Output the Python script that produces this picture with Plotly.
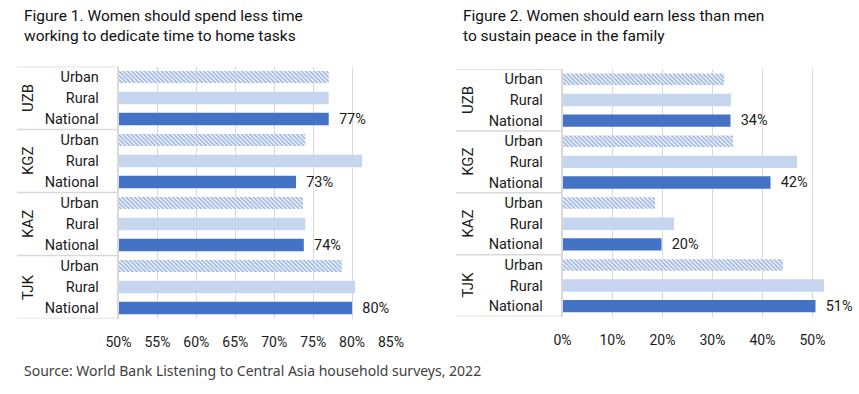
import plotly.graph_objects as go

W, H = 859, 394

countries = ["UZB", "KGZ", "KAZ", "TJK"]
subgroups = ["Urban", "Rural", "National"]

# Figure 1: Women should spend less time working to dedicate time to home tasks
fig1_urban = [0.770, 0.740, 0.737, 0.787]
fig1_rural = [0.770, 0.813, 0.740, 0.804]
fig1_national = [0.770, 0.728, 0.738, 0.800]

# Figure 2: Women should earn less than men to sustain peace in the family
fig2_urban = [0.323, 0.341, 0.185, 0.441]
fig2_rural = [0.337, 0.469, 0.223, 0.523]
fig2_national = [0.336, 0.416, 0.198, 0.506]

fig1_ticks = [0.50, 0.55, 0.60, 0.65, 0.70, 0.75, 0.80, 0.85]
fig2_ticks = [0.0, 0.1, 0.2, 0.3, 0.4, 0.5]

title1 = "Figure 1. Women should spend less time<br>working to dedicate time to home tasks"
title2 = "Figure 2. Women should earn less than men<br>to sustain peace in the family"
source = "Source: World Bank Listening to Central Asia household surveys, 2022"

C_NAT = "#4472C4"
C_RUR = "#C7D6EF"
GRID = "#D9D9D9"
FONT = "Roboto"
TXT = "#1a1a1a"

n_sub = len(subgroups)
row_labels = [s for c in countries for s in subgroups]
row_pos = list(range(len(row_labels)))


def positions(sub_idx):
    return [i * n_sub + sub_idx for i in range(len(countries))]


fig = go.Figure()


def add_chart(urban, rural, national, xa, ya):
    fig.add_trace(go.Bar(
        x=urban, y=positions(0), orientation="h", width=0.56,
        marker=dict(color="white", line=dict(width=0),
                    pattern=dict(shape="\\", fgcolor=C_NAT, bgcolor="white",
                                 size=3, solidity=0.62)),
        xaxis=xa, yaxis=ya, showlegend=False, hoverinfo="x"))
    fig.add_trace(go.Bar(
        x=rural, y=positions(1), orientation="h", width=0.6,
        marker=dict(color=C_RUR, line=dict(width=0)),
        xaxis=xa, yaxis=ya, showlegend=False, hoverinfo="x"))
    fig.add_trace(go.Bar(
        x=national, y=positions(2), orientation="h", width=0.6,
        marker=dict(color=C_NAT, line=dict(width=0)),
        texttemplate="\u00a0\u00a0%{x:.0%}", textposition="outside",
        cliponaxis=False, constraintext="none",
        textfont=dict(family=FONT, size=14.5, color=TXT),
        xaxis=xa, yaxis=ya, showlegend=False, hoverinfo="x"))


add_chart(fig1_urban, fig1_rural, fig1_national, "x", "y")
add_chart(fig2_urban, fig2_rural, fig2_national, "x2", "y2")

# Axis domains (paper fractions)
L1, R1 = 118.5 / W, 391 / W
T1, B1 = 1 - 66.5 / H, 1 - 318.5 / H
L2, R2 = 562.5 / W, 842.5 / W
T2, B2 = 1 - 69 / H, 1 - 316.5 / H

common_x = dict(showgrid=True, gridcolor=GRID, gridwidth=1.3, zeroline=False,
                tickformat=".0%", ticks="", ticklabelstandoff=13, automargin=False,
                tickfont=dict(family=FONT, size=14, color=TXT), fixedrange=True)
common_y = dict(tickmode="array", tickvals=row_pos, ticktext=row_labels,
                autorange=False, range=[len(row_labels) - 0.5, -0.5],
                showgrid=False, zeroline=False, showline=True, linecolor=GRID,
                linewidth=1.5, ticks="", ticklabelstandoff=15, automargin=False,
                tickfont=dict(family=FONT, size=14.5, color=TXT), fixedrange=True)

fig.update_layout(
    width=W, height=H, margin=dict(l=0, r=0, t=0, b=0, autoexpand=False),
    paper_bgcolor="white", plot_bgcolor="white", bargap=0.4,
    xaxis=dict(domain=[L1, R1], range=[0.5, 0.85], tickvals=fig1_ticks,
               anchor="y", **common_x),
    yaxis=dict(domain=[B1, T1], anchor="x", **common_y),
    xaxis2=dict(domain=[L2, R2], range=[0, 0.56], tickvals=fig2_ticks,
                anchor="y2", **common_x),
    yaxis2=dict(domain=[B2, T2], anchor="x2", **common_y),
)

shapes = []
annotations = []
for ya, left_px, axis_px, lab_px in [("y", 17, 118.5, 28), ("y2", 456, 562.5, 468)]:
    for k in range(len(countries) + 1):
        yb = k * n_sub - 0.5
        shapes.append(dict(type="line", xref="paper", yref=ya,
                           x0=left_px / W, x1=axis_px / W, y0=yb, y1=yb,
                           line=dict(color=GRID, width=1.5)))
    for i, c in enumerate(countries):
        annotations.append(dict(text=c, xref="paper", yref=ya,
                                x=lab_px / W, y=i * n_sub + 1, showarrow=False,
                                textangle=-90, xanchor="center", yanchor="middle",
                                font=dict(family=FONT, size=15, color=TXT)))

annotations.append(dict(text=title1, xref="paper", yref="paper", x=22 / W, y=1 - 5 / H,
                        xanchor="left", yanchor="top", align="left", showarrow=False,
                        font=dict(family=FONT, size=15.5, color="#111111")))
annotations.append(dict(text=title2, xref="paper", yref="paper", x=461 / W, y=1 - 5 / H,
                        xanchor="left", yanchor="top", align="left", showarrow=False,
                        font=dict(family=FONT, size=15.5, color="#111111")))
annotations.append(dict(text=source, xref="paper", yref="paper", x=22 / W, y=1 - 370 / H,
                        xanchor="left", yanchor="middle", showarrow=False,
                        font=dict(family="Noto Sans", size=14, color="#404040")))

fig.update_layout(shapes=shapes, annotations=annotations)

fig.write_html("out.html", config={"displayModeBar": False},
               post_script="document.body.style.margin='0';document.body.style.overflow='hidden';")
